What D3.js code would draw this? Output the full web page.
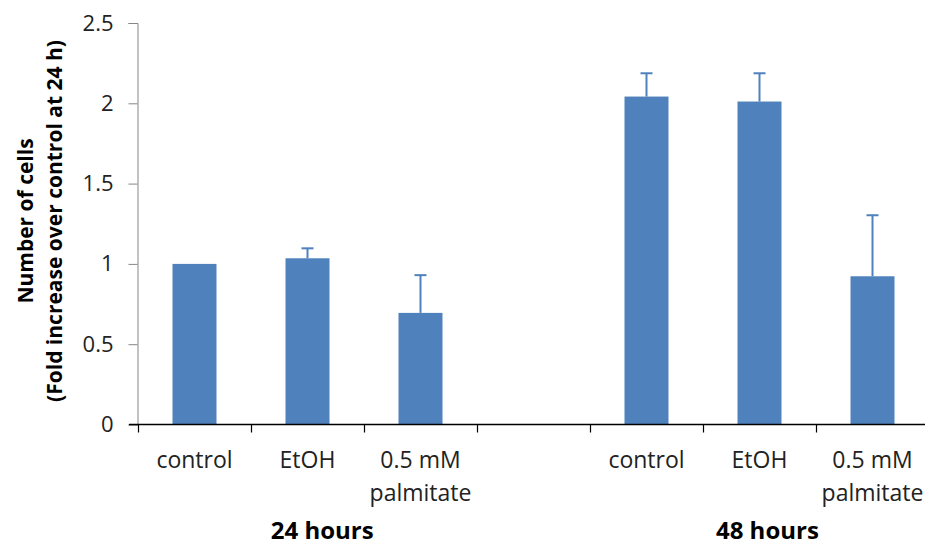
<!DOCTYPE html>
<html lang="en">
<head>
   <meta charset="utf-8">
   <title>Number of cells</title>
   <style type="text/css">
      body { margin: 0; background: #fff; }
      text { font-family: "Open Sans", Lato, sans-serif; }
   </style>
</head>
<body>
   <script src="https://cdn.jsdelivr.net/npm/d3@7/dist/d3.min.js"></script>
   <script type="text/javascript">

      var w = 925;
      var h = 549;
      var margin = { top: 23, bottom: 124, left: 138 };
      var font = "'Open Sans', Lato, sans-serif";

      // slots along the x axis (one empty slot between the two groups)
      var slots = ["c24", "e24", "p24", "gap", "c48", "e48", "p48"];
      var slotLabels = [["control"], ["EtOH"], ["0.5 mM", "palmitate"], [], ["control"], ["EtOH"], ["0.5 mM", "palmitate"]];
      var barSlots = ["c24", "e24", "p24", "c48", "e48", "p48"];
      var values = [1.0, 1.035, 0.695, 2.042, 2.011, 0.923];
      var errors = [0, 0.062, 0.235, 0.145, 0.176, 0.38];
      var groups = ["24 hours", "48 hours"];
      var groupPos = [1.63, 5.57];   // in slot units
      var yTicks = [0, 0.5, 1, 1.5, 2, 2.5];

      var svg = d3.select("body")
                  .append("svg")
                  .attr("width", w)
                  .attr("height", h);

      var xScale = d3.scaleBand()
                     .domain(slots)
                     .range([margin.left, margin.left + 113 * slots.length]);

      var yScale = d3.scaleLinear()
                     .domain([0, 2.5])
                     .range([h - margin.bottom - 0.5, margin.top]);

      var slotScale = d3.scaleLinear()
                        .domain([0, slots.length])
                        .range(xScale.range());

      var barW = 44;
      var blue = "#4F81BD";
      var mid = function(s) { return xScale(s) + xScale.bandwidth() / 2; };

      // bars
      svg.selectAll("rect.bar")
         .data(values)
         .enter()
         .append("rect")
         .attr("class", "bar")
         .attr("x", function(d, i) { return mid(barSlots[i]) - barW / 2; })
         .attr("y", function(d) { return yScale(d); })
         .attr("width", barW)
         .attr("height", function(d) { return yScale(0) - yScale(d); })
         .attr("fill", blue);

      // error bars (upper only)
      var errData = values.map(function(v, i) { return { s: barSlots[i], v: v, e: errors[i] }; })
                          .filter(function(d) { return d.e > 0; });

      var eb = svg.selectAll("g.err")
         .data(errData)
         .enter()
         .append("g")
         .attr("class", "err")
         .attr("stroke", blue)
         .attr("stroke-width", 2);

      eb.append("line")
         .attr("x1", function(d) { return mid(d.s); })
         .attr("x2", function(d) { return mid(d.s); })
         .attr("y1", function(d) { return yScale(d.v); })
         .attr("y2", function(d) { return yScale(d.v + d.e); });

      eb.append("line")
         .attr("x1", function(d) { return mid(d.s) - 6; })
         .attr("x2", function(d) { return mid(d.s) + 6; })
         .attr("y1", function(d) { return yScale(d.v + d.e); })
         .attr("y2", function(d) { return yScale(d.v + d.e); });

      // y axis
      var yAxis = d3.axisLeft(yScale)
                    .tickValues(yTicks)
                    .tickSize(9)
                    .tickPadding(15)
                    .tickFormat(d3.format("~g"));

      var gy = svg.append("g")
         .attr("transform", "translate(" + (margin.left - 0.5) + ",0)")
         .call(yAxis);
      gy.select(".domain").attr("stroke", "#868686");
      gy.selectAll(".tick line").attr("stroke", "#868686");
      gy.selectAll(".tick text")
         .attr("font-size", "22px")
         .attr("fill", "#222")
         .style("font-family", font);

      // x axis line with ticks at slot boundaries
      var base = yScale(0);
      svg.append("line")
         .attr("x1", margin.left - 9)
         .attr("x2", w)
         .attr("y1", base)
         .attr("y2", base)
         .attr("stroke", "#000")
         .attr("stroke-width", 1.5);

      svg.selectAll("line.xtick")
         .data(d3.range(slots.length + 1))
         .enter()
         .append("line")
         .attr("class", "xtick")
         .attr("x1", function(d) { return Math.round(slotScale(d)) + 0.5; })
         .attr("x2", function(d) { return Math.round(slotScale(d)) + 0.5; })
         .attr("y1", base)
         .attr("y2", base + 8)
         .attr("stroke", "#000")
         .attr("stroke-width", 1.2);

      // category labels
      var cat = svg.selectAll("text.cat")
         .data(slots)
         .enter()
         .append("text")
         .attr("class", "cat")
         .attr("text-anchor", "middle")
         .attr("font-size", "23px")
         .attr("fill", "#222")
         .attr("y", base + 43);

      cat.each(function(s, i) {
         d3.select(this).selectAll("tspan")
            .data(slotLabels[i])
            .enter()
            .append("tspan")
            .attr("x", mid(s))
            .attr("dy", function(d, k) { return k === 0 ? 0 : 33; })
            .text(function(d) { return d; });
      });

      // group labels
      svg.selectAll("text.grp")
         .data(groups)
         .enter()
         .append("text")
         .attr("class", "grp")
         .attr("text-anchor", "middle")
         .attr("font-size", "24px")
         .attr("font-weight", "bold")
         .attr("fill", "#000")
         .attr("x", function(d, i) { return slotScale(groupPos[i]); })
         .attr("y", base + 114)
         .text(function(d) { return d; });

      // y axis title
      var yt = svg.append("text")
         .attr("transform", "translate(0,221) rotate(-90)")
         .attr("text-anchor", "middle")
         .attr("font-size", "21px")
         .attr("font-weight", "bold")
         .attr("fill", "#000");
      yt.append("tspan").attr("x", 0).attr("y", 33).text("Number of cells");
      yt.append("tspan").attr("x", 0).attr("y", 62).text("(Fold increase over control at 24 h)");

   </script>
</body>
</html>
